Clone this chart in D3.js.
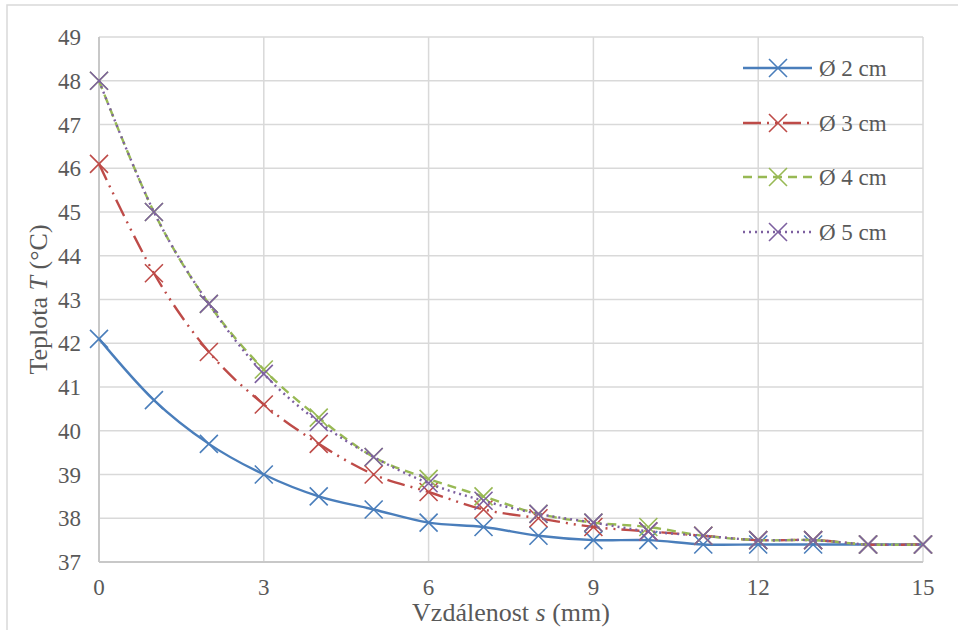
<!DOCTYPE html>
<html>
<head>
<meta charset="utf-8">
<script src="https://cdn.jsdelivr.net/npm/d3@7"></script>
<style>
body { margin: 0; background: #fff; }
text { font-family: "Liberation Serif", "Times New Roman", serif; fill: #595959; }
</style>
</head>
<body>
<svg id="chart" width="958" height="630"></svg>
<script>
// vzdalenost s (mm)
var distances = [0, 1, 2, 3, 4, 5, 6, 7, 8, 9, 10, 11, 12, 13, 14, 15];

// teploty pro jednotlive prumery
var d2cm = [42.1, 40.7, 39.7, 39.0, 38.5, 38.2, 37.9, 37.8, 37.6, 37.5, 37.5, 37.4, 37.4, 37.4, 37.4, 37.4];
var d3cm = [46.1, 43.6, 41.8, 40.6, 39.7, 39.0, 38.6, 38.2, 38.0, 37.8, 37.7, 37.6, 37.5, 37.5, 37.4, 37.4];
var d4cm = [48.0, 45.0, 42.9, 41.4, 40.3, 39.4, 38.9, 38.5, 38.1, 37.9, 37.8, 37.6, 37.5, 37.5, 37.4, 37.4];
var d5cm = [48.0, 45.0, 42.9, 41.3, 40.2, 39.4, 38.8, 38.4, 38.1, 37.9, 37.7, 37.6, 37.5, 37.5, 37.4, 37.4];

var seriesNames = ["Ø 2 cm", "Ø 3 cm", "Ø 4 cm", "Ø 5 cm"];
var xTicks = [0, 3, 6, 9, 12, 15];
var yTicks = [37, 38, 39, 40, 41, 42, 43, 44, 45, 46, 47, 48, 49];

var series = [
  { name: seriesNames[0], values: d2cm, color: "#4a7ebb", dash: null },
  { name: seriesNames[1], values: d3cm, color: "#be4b48", dash: "18,6,2,6,2,6" },
  { name: seriesNames[2], values: d4cm, color: "#98b954", dash: "9,6" },
  { name: seriesNames[3], values: d5cm, color: "#7d60a0", dash: "2,4" }
];

var svg = d3.select("#chart");

// outer chart border
svg.append("rect")
  .attr("x", 7).attr("y", 5)
  .attr("width", 970).attr("height", 650)
  .attr("fill", "none").attr("stroke", "#d9d9d9").attr("stroke-width", 1.5);

var pLeft = 99, pRight = 923, pTop = 37, pBottom = 562;

var x = d3.scaleLinear().domain([0, 15]).range([pLeft, pRight]);
var y = d3.scaleLinear().domain([37, 49]).range([pBottom, pTop]);

// grid
var g = svg.append("g");
g.selectAll(".hgrid")
  .data(yTicks)
  .enter()
  .append("line")
  .attr("x1", pLeft).attr("x2", pRight)
  .attr("y1", function(d) { return y(d); })
  .attr("y2", function(d) { return y(d); })
  .attr("stroke", "#d9d9d9").attr("stroke-width", 1.5);

g.selectAll(".vgrid")
  .data(xTicks)
  .enter()
  .append("line")
  .attr("x1", function(d) { return x(d); })
  .attr("x2", function(d) { return x(d); })
  .attr("y1", pTop).attr("y2", pBottom)
  .attr("stroke", "#d9d9d9").attr("stroke-width", 1.5);

// axis lines
svg.append("line")
  .attr("x1", pLeft).attr("x2", pRight).attr("y1", pBottom).attr("y2", pBottom)
  .attr("stroke", "#c8c8c8").attr("stroke-width", 2);
svg.append("line")
  .attr("x1", pLeft).attr("x2", pLeft).attr("y1", pTop).attr("y2", pBottom)
  .attr("stroke", "#c8c8c8").attr("stroke-width", 2);

// tick labels
svg.selectAll(".ylab")
  .data(yTicks)
  .enter()
  .append("text")
  .attr("x", 81)
  .attr("y", function(d) { return y(d) + 8; })
  .attr("text-anchor", "end")
  .style("font-size", "23px")
  .text(function(d) { return d; });

svg.selectAll(".xlab")
  .data(xTicks)
  .enter()
  .append("text")
  .attr("x", function(d) { return x(d); })
  .attr("y", 595)
  .attr("text-anchor", "middle")
  .style("font-size", "23px")
  .text(function(d) { return d; });

// axis titles
var xt = svg.append("text")
  .attr("x", (pLeft + pRight) / 2)
  .attr("y", 621)
  .attr("text-anchor", "middle")
  .style("font-size", "26px");
xt.append("tspan").text("Vzdálenost ");
xt.append("tspan").style("font-style", "italic").text("s");
xt.append("tspan").text(" (mm)");

var yt = svg.append("text")
  .attr("transform", "translate(47," + ((pTop + pBottom) / 2) + ") rotate(-90)")
  .attr("text-anchor", "middle")
  .style("font-size", "26px");
yt.append("tspan").text("Teplota ");
yt.append("tspan").style("font-style", "italic").text("T");
yt.append("tspan").text(" (°C)");

// lines + markers
var line = d3.line()
  .x(function(d, i) { return x(distances[i]); })
  .y(function(d) { return y(d); })
  .curve(d3.curveCardinal.tension(0));

function cross(sel, cx, cy, r, color) {
  sel.append("path")
    .attr("d", "M" + (cx - r) + "," + (cy - r) + "L" + (cx + r) + "," + (cy + r) +
               "M" + (cx - r) + "," + (cy + r) + "L" + (cx + r) + "," + (cy - r))
    .attr("stroke", color).attr("stroke-width", 1.6).attr("fill", "none");
}

series.forEach(function(s) {
  var sg = svg.append("g");
  sg.append("path")
    .datum(s.values)
    .attr("d", line)
    .attr("fill", "none")
    .attr("stroke", s.color)
    .attr("stroke-width", 2.4)
    .attr("stroke-dasharray", s.dash);
  s.values.forEach(function(v, i) {
    cross(sg, x(distances[i]), y(v), 9, s.color);
  });
});

// legend
var legendY = [68, 123, 177, 232];
series.forEach(function(s, i) {
  var lg = svg.append("g");
  lg.append("line")
    .attr("x1", 743).attr("x2", 812)
    .attr("y1", legendY[i]).attr("y2", legendY[i])
    .attr("stroke", s.color).attr("stroke-width", 2.4)
    .attr("stroke-dasharray", s.dash);
  cross(lg, 778, legendY[i], 9, s.color);
  lg.append("text")
    .attr("x", 819).attr("y", legendY[i] + 8)
    .style("font-size", "23px")
    .text(s.name);
});
</script>
</body>
</html>
